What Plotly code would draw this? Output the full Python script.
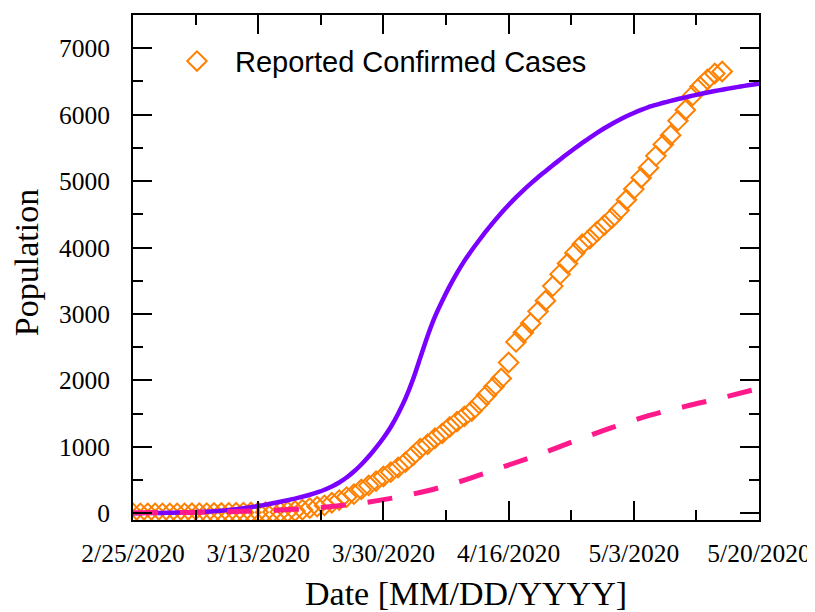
import pandas as pd
import plotly.graph_objects as go

start_date = "2020-02-25"

# Reported confirmed cases (daily from 2/25/2020)
reported_cases = [
    0, 0, 0, 0, 0, 0, 1, 1, 2, 3,
    4, 5, 6, 8, 10, 12, 14, 16, 18, 20,
    22, 26, 36, 55, 80, 100, 120, 160, 200, 245,
    290, 360, 420, 485, 555, 620, 690, 770, 870, 975,
    1040, 1130, 1205, 1300, 1380, 1460, 1540, 1655, 1780, 1905,
    2030, 2270, 2580, 2720, 2860, 3040, 3200, 3420, 3600, 3760,
    3920, 4050, 4130, 4240, 4340, 4440, 4560, 4720, 4880, 5050,
    5200, 5380, 5550, 5690, 5910, 6070, 6290, 6420, 6530, 6620,
    6650,
]

# Model curve (solid purple), daily from 2/25/2020
model_solid = [
    2, 3, 4, 5, 7, 9, 11, 14, 17, 21,
    26, 32, 40, 50, 62, 76, 92, 110, 130, 152,
    175, 198, 222, 250, 280, 315, 355, 405, 465, 540,
    630, 735, 855, 990, 1135, 1300, 1500, 1730, 2010, 2340,
    2670, 2960, 3200, 3420, 3620, 3800, 3960, 4110, 4255, 4390,
    4520, 4640, 4755, 4862, 4962, 5058, 5148, 5238, 5326, 5412,
    5495, 5575, 5652, 5725, 5795, 5860, 5920, 5975, 6025, 6072,
    6115, 6148, 6179, 6208, 6235, 6261, 6286, 6310, 6333, 6355,
    6376, 6396, 6415, 6433, 6450, 6466,
]

# Model curve (dashed pink), every 5 days from 2/25/2020
model_dashed = [10, 12, 18, 30, 50, 85, 140, 225, 340, 500,
                690, 880, 1090, 1290, 1470, 1610, 1740, 1880]

tick_dates = ["2020-02-25", "2020-03-13", "2020-03-30", "2020-04-16", "2020-05-03", "2020-05-20"]
tick_labels = ["2/25/2020", "3/13/2020", "3/30/2020", "4/16/2020", "5/3/2020", "5/20/2020"]

dates_cases = pd.date_range(start_date, periods=len(reported_cases), freq="D")
dates_solid = pd.date_range(start_date, periods=len(model_solid), freq="D")
dates_dashed = pd.date_range(start_date, periods=len(model_dashed), freq="5D")

fig = go.Figure()
fig.add_trace(go.Scatter(
    x=dates_cases, y=reported_cases, mode="markers", name="Reported Confirmed Cases",
    marker=dict(symbol="diamond-open", size=15, color="#ff8000", line=dict(width=2, color="#ff8000")),
))
fig.add_trace(go.Scatter(
    x=dates_solid, y=model_solid, mode="lines", showlegend=False,
    line=dict(color="#7a00ff", width=4.5, shape="spline", smoothing=0.6),
))
fig.add_trace(go.Scatter(
    x=dates_dashed, y=model_dashed, mode="lines", showlegend=False,
    line=dict(color="#ff1a8c", width=5, dash="25px,22px", shape="spline"),
))

serif = "Liberation Serif, Times New Roman, serif"
day_ms = 86400000

# The page body has an 8px default margin; the figure is sized to compensate.
fig.update_layout(
    width=807, height=604,
    margin=dict(l=125, r=56, t=7, b=92, autoexpand=False),
    plot_bgcolor="white", paper_bgcolor="white",
    font=dict(family=serif, size=25.5, color="black"),
    showlegend=True,
    legend=dict(x=0.0415, y=0.959, xanchor="left", yanchor="top",
                bgcolor="rgba(0,0,0,0)", itemwidth=66,
                font=dict(family="Liberation Sans, Arial, sans-serif", size=29, color="black")),
    annotations=[
        dict(text="Date [MM/DD/YYYY]", xref="paper", yref="paper", x=0.532, y=-0.1446,
             xanchor="center", yanchor="middle", showarrow=False,
             font=dict(family=serif, size=34, color="black")),
        dict(text="Population", xref="paper", yref="paper", x=-0.169, y=0.509,
             xanchor="center", yanchor="middle", showarrow=False, textangle=-90,
             font=dict(family=serif, size=34, color="black")),
    ],
)

fig.update_xaxes(
    type="date", automargin=False,
    range=[tick_dates[0], tick_dates[-1]],
    tickmode="array", tickvals=tick_dates, ticktext=tick_labels,
    ticks="inside", ticklen=19, tickwidth=2, tickcolor="black",
    showline=True, linecolor="black", linewidth=2, mirror="allticks",
    showgrid=False, zeroline=False,
    ticklabelstandoff=9,
    tickfont=dict(family=serif, size=25.5, color="black"),
    minor=dict(ticks="inside", ticklen=10, tickwidth=2, tickcolor="black",
               dtick=8.5 * day_ms, tick0=tick_dates[0], showgrid=False),
)
fig.update_yaxes(
    automargin=False,
    range=[-100, 7500],
    tickmode="linear", tick0=0, dtick=1000,
    ticks="inside", ticklen=19, tickwidth=2, tickcolor="black",
    showline=True, linecolor="black", linewidth=2, mirror="allticks",
    showgrid=False, zeroline=False,
    ticklabelstandoff=16,
    tickfont=dict(family=serif, size=25.5, color="black"),
    minor=dict(ticks="inside", ticklen=10, tickwidth=2, tickcolor="black", dtick=500, showgrid=False),
)

fig.write_html("out.html")
